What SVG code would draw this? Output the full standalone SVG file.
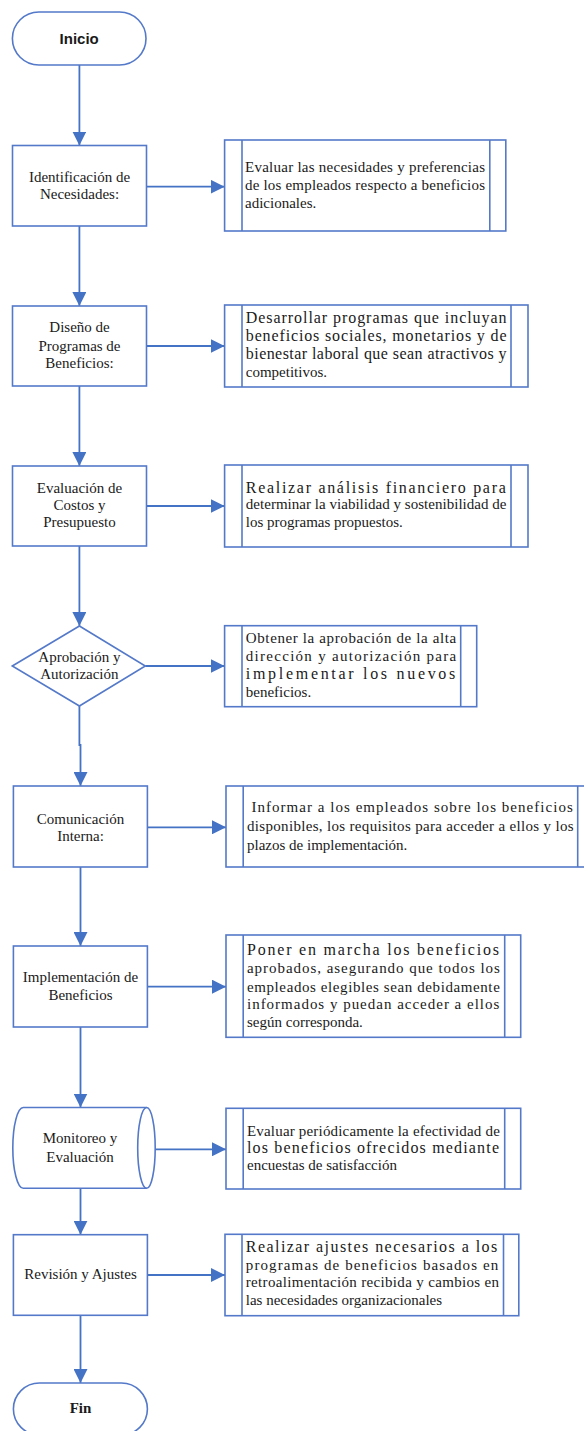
<svg xmlns="http://www.w3.org/2000/svg" width="584" height="1431" viewBox="0 0 584 1431">
<defs>
<marker id="ah" viewBox="0 0 14 14" refX="14" refY="7" markerWidth="14" markerHeight="14" markerUnits="userSpaceOnUse" orient="auto">
<path d="M0,0 L14,7 L0,14 z" fill="#4472C4"/>
</marker>
<style>
.shape{fill:#ffffff;stroke:#5479C9;stroke-width:1.6}
.inner{stroke:#5479C9;stroke-width:1.6;fill:none}
.conn{stroke:#4472C4;stroke-width:1.8;fill:none;marker-end:url(#ah)}
.lbl{font-family:"Liberation Serif","Times New Roman",serif;font-size:15px;fill:#1a1a1a;text-anchor:middle}
.txt{font-family:"Liberation Serif","Times New Roman",serif;font-size:15px;fill:#1a1a1a}
.big{font-size:16px}
.term{font-family:"Liberation Sans",Arial,sans-serif;font-size:15px;font-weight:bold;fill:#1a1a1a;text-anchor:middle}
.termserif{font-family:"Liberation Serif","Times New Roman",serif;font-size:15px;font-weight:bold;fill:#1a1a1a;text-anchor:middle}
</style>
</defs>
<rect width="584" height="1431" fill="#ffffff"/>

<g id="connectors">
<path class="conn" d="M79.4,65 V145.5"/>
<path class="conn" d="M79.4,226 V306"/>
<path class="conn" d="M79.4,386 V466"/>
<path class="conn" d="M79.4,546 V626"/>
<path class="conn" d="M79.4,706 V745 H80.5 V786"/>
<path class="conn" d="M80.5,867 V946"/>
<path class="conn" d="M80.5,1027 V1107.5"/>
<path class="conn" d="M80.5,1188.3 V1234.7"/>
<path class="conn" d="M80.5,1315.3 V1383"/>
<path class="conn" d="M146.5,186.7 H224.6"/>
<path class="conn" d="M146.5,346 H224.6"/>
<path class="conn" d="M146.5,506 H224.6"/>
<path class="conn" d="M145.3,666 H224.6"/>
<path class="conn" d="M147.4,827.3 H226"/>
<path class="conn" d="M147.4,986.7 H226"/>
<path class="conn" d="M146.7,1149.3 H226"/>
<path class="conn" d="M147.4,1275 H225"/>
</g>

<g id="inicio">
<rect class="shape" x="12.4" y="12" width="133.6" height="53" rx="26.5"/>
<text class="term" x="79.2" y="43.5">Inicio</text>
</g>

<g id="identificacion">
<rect class="shape" x="12.5" y="145.5" width="134" height="80.5"/>
<text class="lbl" x="79.5" y="182">Identificación de</text>
<text class="lbl" x="79.5" y="199">Necesidades:</text>
</g>

<g id="proc1">
<rect class="shape" x="224.6" y="140" width="281.2" height="91"/>
<line class="inner" x1="242" y1="140" x2="242" y2="231"/>
<line class="inner" x1="489.8" y1="140" x2="489.8" y2="231"/>
<text class="txt" x="245" y="171.8" textLength="240">Evaluar las necesidades y preferencias</text>
<text class="txt" x="245" y="190" textLength="240">de los empleados respecto a beneficios</text>
<text class="txt" x="245" y="207.5">adicionales.</text>
</g>

<g id="diseno">
<rect class="shape" x="12.5" y="306" width="134" height="80"/>
<text class="lbl" x="79.5" y="332.3">Diseño de</text>
<text class="lbl" x="79.5" y="350.5">Programas de</text>
<text class="lbl" x="79.5" y="368.3">Beneficios:</text>
</g>

<g id="proc2">
<rect class="shape" x="224.6" y="305" width="303.4" height="82"/>
<line class="inner" x1="242" y1="305" x2="242" y2="387"/>
<line class="inner" x1="511" y1="305" x2="511" y2="387"/>
<text class="txt big" x="245.8" y="322.5" textLength="260.7">Desarrollar programas que incluyan</text>
<text class="txt big" x="245.8" y="341" textLength="260.7">beneficios sociales, monetarios y de</text>
<text class="txt big" x="245.8" y="359.3" textLength="260.7">bienestar laboral que sean atractivos y</text>
<text class="txt" x="245.8" y="376.7">competitivos.</text>
</g>

<g id="evaluacion">
<rect class="shape" x="12.5" y="466" width="134" height="80"/>
<text class="lbl" x="79.5" y="492.7">Evaluación de</text>
<text class="lbl" x="79.5" y="510">Costos y</text>
<text class="lbl" x="79.5" y="527.3">Presupuesto</text>
</g>

<g id="proc3">
<rect class="shape" x="224.6" y="465" width="303.4" height="82"/>
<line class="inner" x1="242" y1="465" x2="242" y2="547"/>
<line class="inner" x1="511" y1="465" x2="511" y2="547"/>
<text class="txt big" x="245.8" y="492.7" textLength="260">Realizar análisis financiero para</text>
<text class="txt" x="245.8" y="509.3" textLength="260.7">determinar la viabilidad y sostenibilidad de</text>
<text class="txt" x="245.8" y="527.3">los programas propuestos.</text>
</g>

<g id="aprobacion">
<polygon class="shape" points="12.3,666 79.4,626 145.3,666 79.4,706"/>
<text class="lbl" x="79.4" y="661.7">Aprobación y</text>
<text class="lbl" x="79.4" y="679">Autorización</text>
</g>

<g id="proc4">
<rect class="shape" x="224.6" y="625.7" width="252.1" height="81"/>
<line class="inner" x1="242" y1="625.7" x2="242" y2="706.7"/>
<line class="inner" x1="460.7" y1="625.7" x2="460.7" y2="706.7"/>
<text class="txt" x="245.8" y="642.7" textLength="210.4">Obtener la aprobación de la alta</text>
<text class="txt" x="245.8" y="661" textLength="210.4">dirección y autorización para</text>
<text class="txt big" x="245.8" y="679.3" textLength="209.5">implementar los nuevos</text>
<text class="txt" x="245.8" y="696.7">beneficios.</text>
</g>

<g id="comunicacion">
<rect class="shape" x="13.4" y="786" width="134" height="81"/>
<text class="lbl" x="80.5" y="824">Comunicación</text>
<text class="lbl" x="80.5" y="840.7">Interna:</text>
</g>

<g id="proc5">
<rect class="shape" x="226" y="786" width="370" height="81"/>
<line class="inner" x1="243.2" y1="786" x2="243.2" y2="867"/>
<line class="inner" x1="577.7" y1="786" x2="577.7" y2="867"/>
<text class="txt" x="251.4" y="811.6" textLength="321.4">Informar a los empleados sobre los beneficios</text>
<text class="txt" x="247" y="830.6" textLength="326.6">disponibles, los requisitos para acceder a ellos y los</text>
<text class="txt" x="247" y="849.6">plazos de implementación.</text>
</g>

<g id="implementacion">
<rect class="shape" x="13.4" y="946" width="134" height="81"/>
<text class="lbl" x="80.5" y="982.3">Implementación de</text>
<text class="lbl" x="80.5" y="1000">Beneficios</text>
</g>

<g id="proc6">
<rect class="shape" x="226" y="935" width="294.7" height="102.3"/>
<line class="inner" x1="243.2" y1="935" x2="243.2" y2="1037.3"/>
<line class="inner" x1="504.7" y1="935" x2="504.7" y2="1037.3"/>
<text class="txt big" x="247" y="955.4" textLength="252">Poner en marcha los beneficios</text>
<text class="txt" x="247" y="973.3" textLength="252.8">aprobados, asegurando que todos los</text>
<text class="txt" x="247" y="991.5" textLength="252.8">empleados elegibles sean debidamente</text>
<text class="txt" x="247" y="1009.4" textLength="252.3">informados y puedan acceder a ellos</text>
<text class="txt" x="247" y="1027.3">según corresponda.</text>
</g>

<g id="monitoreo">
<path class="shape" d="M23.3,1107.5 H146.7 A8.5,40.4 0 0 1 146.7,1188.3 H23.3 A10.5,40.4 0 0 1 23.3,1107.5 Z"/>
<path class="inner" d="M146.7,1107.5 A9,40.4 0 0 0 146.7,1188.3"/>
<text class="lbl" x="80" y="1143.4">Monitoreo y</text>
<text class="lbl" x="80" y="1161.7">Evaluación</text>
</g>

<g id="proc7">
<rect class="shape" x="226" y="1108.3" width="294.7" height="80.7"/>
<line class="inner" x1="243.2" y1="1108.3" x2="243.2" y2="1189"/>
<line class="inner" x1="504.7" y1="1108.3" x2="504.7" y2="1189"/>
<text class="txt" x="247" y="1135.5" textLength="252.8">Evaluar periódicamente la efectividad de</text>
<text class="txt big" x="247" y="1153.3" textLength="252">los beneficios ofrecidos mediante</text>
<text class="txt" x="247" y="1170">encuestas de satisfacción</text>
</g>

<g id="revision">
<rect class="shape" x="13.4" y="1234.7" width="134" height="80.6"/>
<text class="lbl" x="80.5" y="1279">Revisión y Ajustes</text>
</g>

<g id="proc8">
<rect class="shape" x="225" y="1234.3" width="293.8" height="81.4"/>
<line class="inner" x1="242" y1="1234.3" x2="242" y2="1315.7"/>
<line class="inner" x1="503.5" y1="1234.3" x2="503.5" y2="1315.7"/>
<text class="txt big" x="245.8" y="1252.3" textLength="251.4">Realizar ajustes necesarios a los</text>
<text class="txt" x="245.8" y="1270" textLength="252.5">programas de beneficios basados en</text>
<text class="txt" x="245.8" y="1287" textLength="253.2">retroalimentación recibida y cambios en</text>
<text class="txt" x="245.8" y="1305">las necesidades organizacionales</text>
</g>

<g id="fin">
<rect class="shape" x="13.4" y="1383" width="134" height="52" rx="26"/>
<text class="termserif" x="80.5" y="1413.3">Fin</text>
</g>
</svg>
